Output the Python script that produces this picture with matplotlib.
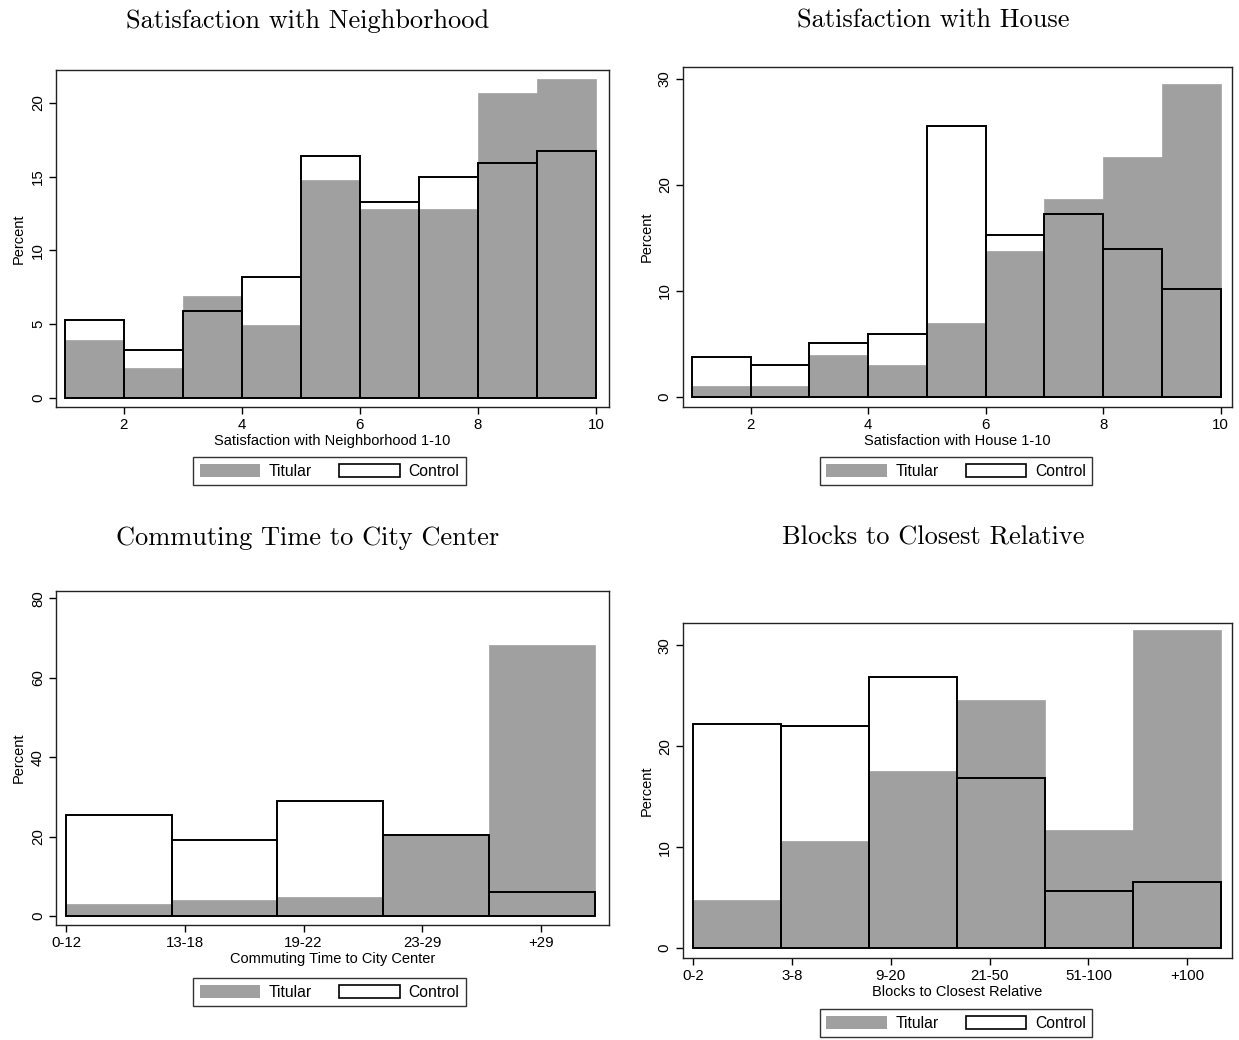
import numpy as np
import matplotlib
matplotlib.use('Agg')
import matplotlib.pyplot as plt
from matplotlib.patches import Patch

# Data (percent)
nbhd_titular = [3.95, 2.0, 6.9, 4.95, 14.75, 12.8, 12.8, 20.65, 21.6]
nbhd_control = [5.27, 3.28, 5.93, 8.2, 16.42, 13.3, 14.95, 15.93, 16.77]

house_titular = [1.04, 1.04, 3.97, 2.99, 6.96, 13.8, 18.7, 22.6, 29.5]
house_control = [3.8, 2.99, 5.1, 5.92, 25.6, 15.3, 17.25, 13.97, 10.2]

commute_labels = ['0-12', '13-18', '19-22', '23-29', '+29']
commute_titular = [3.0, 4.1, 4.8, 20.5, 68.2]
commute_control = [25.3, 19.2, 29.0, 20.4, 5.96]

blocks_labels = ['0-2', '3-8', '9-20', '21-50', '51-100', '+100']
blocks_titular = [4.72, 10.56, 17.52, 24.55, 11.72, 31.5]
blocks_control = [22.2, 22.0, 26.8, 16.86, 5.68, 6.57]

GRAY = '#a0a0a0'
plt.rcParams['font.family'] = ['Liberation Sans', 'DejaVu Sans']

fig = plt.figure(figsize=(12.39, 10.4), dpi=100)


def draw_panel(rect, lefts, width, titular, control, xlim, ylim, yticks,
               xticks, xticklabels, xlabel, title, title_xy, legend_xy):
    ax = fig.add_axes(rect)
    ax.bar(lefts, titular, width=width, align='edge', color=GRAY,
           edgecolor=GRAY, linewidth=0.5, zorder=2)
    ax.bar(lefts, control, width=width, align='edge', fill=False,
           edgecolor='black', linewidth=1.4, zorder=3)
    ax.set_xlim(*xlim)
    ax.set_ylim(*ylim)
    ax.set_yticks(yticks)
    ax.set_yticklabels([str(t) for t in yticks], rotation=90, va='center')
    ax.set_xticks(xticks)
    ax.set_xticklabels(xticklabels)
    ax.tick_params(direction='out', length=5, width=1, labelsize=10.8, pad=3)
    for s in ax.spines.values():
        s.set_linewidth(1.0)
        s.set_color('#222222')
    ax.set_xlabel(xlabel, fontsize=10.5)
    ax.xaxis.set_label_coords(0.5, -0.081)
    ax.set_ylabel('Percent', fontsize=10.5)
    ax.yaxis.set_label_coords(-0.054, 0.5)
    fig.text(title_xy[0], title_xy[1], title, family='cmr10',
             fontsize=19, ha='center', va='center')
    handles = [Patch(facecolor=GRAY, edgecolor='none'),
               Patch(facecolor='white', edgecolor='black', linewidth=1.2)]
    leg = ax.legend(handles, ['Titular', 'Control'], ncol=2,
                    loc='upper center', bbox_to_anchor=legend_xy,
                    bbox_transform=fig.transFigure, fontsize=11.3,
                    frameon=True, fancybox=False, handlelength=3.85,
                    handleheight=0.95, handletextpad=0.55, columnspacing=1.75,
                    borderpad=0.42, borderaxespad=0)
    leg.get_frame().set_edgecolor('black')
    leg.get_frame().set_linewidth(1.0)
    return ax


# Satisfaction with Neighborhood
draw_panel([0.0452, 0.6087, 0.4463, 0.324], np.arange(1, 10), 1.0,
           nbhd_titular, nbhd_control, (0.85, 10.22), (-0.61, 22.24),
           [0, 5, 10, 15, 20], [2, 4, 6, 8, 10], ['2', '4', '6', '8', '10'],
           'Satisfaction with Neighborhood 1-10',
           'Satisfaction with Neighborhood', (0.248, 0.980), (0.266, 0.5606))

# Satisfaction with House
draw_panel([0.5512, 0.6087, 0.443, 0.327], np.arange(1, 10), 1.0,
           house_titular, house_control, (0.847, 10.19), (-0.94, 31.13),
           [0, 10, 20, 30], [2, 4, 6, 8, 10], ['2', '4', '6', '8', '10'],
           'Satisfaction with House 1-10',
           'Satisfaction with House', (0.753, 0.980), (0.7716, 0.5606))

# Commuting time
n3 = len(commute_labels)
draw_panel([0.0452, 0.1106, 0.4463, 0.321], np.arange(n3) * 0.89, 0.89,
           commute_titular, commute_control, (-0.084, 4.57), (-2.26, 81.76),
           [0, 20, 40, 60, 80], np.arange(n3), commute_labels,
           'Commuting Time to City Center',
           'Commuting Time to City Center', (0.248, 0.483), (0.266, 0.0596))

# Blocks to closest relative
n4 = len(blocks_labels)
draw_panel([0.5512, 0.0788, 0.443, 0.322], np.arange(n4) * 0.89, 0.89,
           blocks_titular, blocks_control, (-0.1, 5.45), (-0.99, 32.18),
           [0, 10, 20, 30], np.arange(n4), blocks_labels,
           'Blocks to Closest Relative',
           'Blocks to Closest Relative', (0.753, 0.483), (0.7716, 0.0298))

fig.savefig('out.png', dpi=100, facecolor='white')
